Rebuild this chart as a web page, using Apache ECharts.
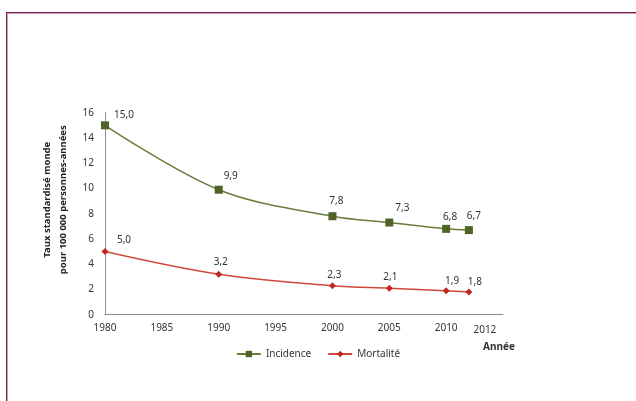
<!DOCTYPE html>
<html>
<head>
<meta charset="utf-8">
<script src="https://cdn.jsdelivr.net/npm/echarts@6/dist/echarts.min.js"></script>
<style>
html,body{margin:0;padding:0;background:#fff;}
#c{width:636px;height:401px;}
#frame{position:absolute;left:6px;top:12px;width:640px;height:400px;border-top:1px solid #6e2551;border-left:1px solid #6e2551;box-shadow:inset 1px 1px 0 #d99abd;pointer-events:none;}
</style>
</head>
<body>
<div id="c"></div>
<div id="frame"></div>
<script>
var years = [1980, 1990, 2000, 2005, 2010, 2012];
var incidence = [15.0, 9.9, 7.8, 7.3, 6.8, 6.7];
var mortalite = [5.0, 3.2, 2.3, 2.1, 1.9, 1.8];
var xTickLabels = [1980, 1985, 1990, 1995, 2000, 2005, 2010, 2012];
var yTicks = [0, 2, 4, 6, 8, 10, 12, 14, 16];

var incOffsets = [[19, 4], [12, 0], [4, -1], [13, 0], [4, 2], [5, 0]];
var morOffsets = [[19, 2], [2, 1], [2, 3], [1, 2], [6, 4], [6, 4]];

function fmt(v) { return v.toFixed(1).replace('.', ','); }
function build(vals, offs) {
  return vals.map(function (v, i) {
    return { value: [years[i], v], label: { offset: offs[i] } };
  });
}
var FONT = 'Noto Sans';
var chart = echarts.init(document.getElementById('c'), null, { renderer: 'canvas' });
chart.setOption({
  animation: false,
  textStyle: { fontFamily: FONT },
  grid: { left: 105, right: 133, top: 112.7, bottom: 86.3, containLabel: false },
  xAxis: {
    type: 'value', min: 1980, max: 2015, interval: 5,
    name: 'Année', nameLocation: 'end', nameGap: -4,
    nameTextStyle: { fontFamily: FONT, fontWeight: 'bold', fontSize: 10, color: '#333', align: 'center', verticalAlign: 'top', padding: [27, 0, 0, 0] },
    axisLine: { show: true, lineStyle: { color: '#8c8c8c', width: 1 } },
    axisTick: { show: false },
    splitLine: { show: false },
    axisLabel: {
      customValues: xTickLabels, margin: 8, fontSize: 10, color: '#333', fontFamily: FONT,
      formatter: function (v) { return v === 2012 ? '{s|2012}' : String(v); },
      rich: { s: { padding: [2, 0, 0, 32], fontSize: 10, color: '#333', fontFamily: FONT } }
    }
  },
  yAxis: {
    type: 'value', min: 0, max: 16, interval: 2,
    name: 'Taux standardisé monde\npour 100 000 personnes-années',
    nameLocation: 'middle', nameGap: 33, nameRotate: 90,
    nameTextStyle: { fontFamily: FONT, fontWeight: 'bold', fontSize: 9.5, color: '#222', lineHeight: 16, padding: [0, 0, 0, 28] },
    axisLine: { show: true, lineStyle: { color: '#8c8c8c', width: 1 } },
    axisTick: { show: false },
    splitLine: { show: false },
    axisLabel: { margin: 11, fontSize: 10, color: '#333', fontFamily: FONT, customValues: yTicks }
  },
  legend: {
    bottom: 37, left: 'center', itemWidth: 24, itemHeight: 8, itemGap: 16,
    textStyle: { fontSize: 10, color: '#333', fontFamily: FONT },
    data: ['Incidence', 'Mortalité']
  },
  series: [
    {
      name: 'Incidence', type: 'line', smooth: 0.35,
      data: build(incidence, incOffsets),
      symbol: 'rect', symbolSize: 8,
      itemStyle: { color: '#4f6228' },
      lineStyle: { color: '#6b7b3a', width: 1.5 },
      label: { show: true, position: 'top', fontSize: 10, color: '#333', fontFamily: FONT, distance: 5,
        formatter: function (p) { return fmt(p.value[1]); } }
    },
    {
      name: 'Mortalité', type: 'line', smooth: 0.35,
      data: build(mortalite, morOffsets),
      symbol: 'diamond', symbolSize: 7,
      itemStyle: { color: '#c0281e' },
      lineStyle: { color: '#d0483c', width: 1.5 },
      label: { show: true, position: 'top', fontSize: 10, color: '#333', fontFamily: FONT, distance: 5,
        formatter: function (p) { return fmt(p.value[1]); } }
    }
  ]
});
</script>
</body>
</html>
